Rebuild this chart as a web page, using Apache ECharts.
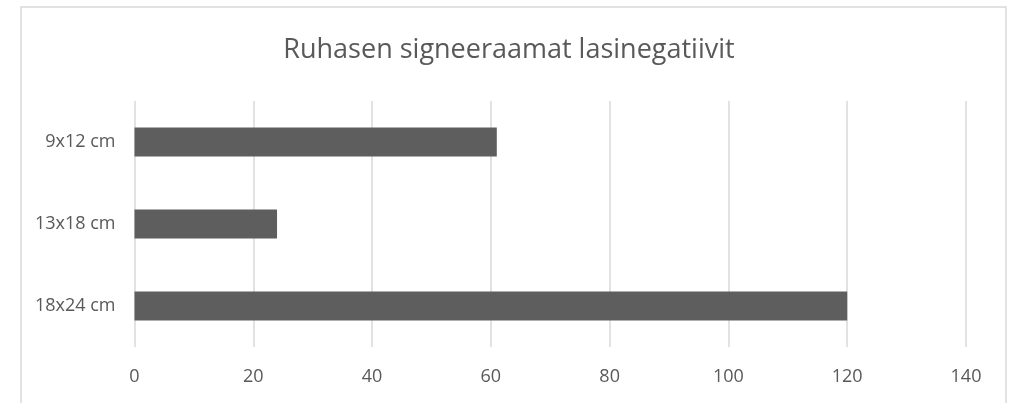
<!DOCTYPE html>
<html>
<head>
<meta charset="utf-8">
<script src="https://cdn.jsdelivr.net/npm/echarts@6/dist/echarts.min.js"></script>
<style>
html,body{margin:0;padding:0;background:#fff;}
#c{width:1018px;height:403px;}
</style>
</head>
<body>
<div id="c"></div>
<script>
const titleText = 'Ruhasen signeeraamat lasinegatiivit';
const categories = ['18x24 cm', '13x18 cm', '9x12 cm'];
const values = [120, 24, 61];
const xTicks = [0, 20, 40, 60, 80, 100, 120, 140];

const FONT = "'Open Sans', sans-serif";
const chart = echarts.init(document.getElementById('c'), null, {renderer: 'canvas'});
chart.setOption({
  animation: false,
  backgroundColor: '#ffffff',
  title: {
    text: titleText,
    left: 'center',
    top: 32,
    textStyle: {fontFamily: FONT, fontSize: 27, fontWeight: 'normal', color: '#595959'}
  },
  graphic: [{
    type: 'rect',
    shape: {x: 21, y: 7, width: 985, height: 410},
    style: {fill: 'none', stroke: '#d9d9d9', lineWidth: 1.5},
    silent: true
  }],
  grid: {left: 134.5, right: 52, top: 101, bottom: 56, containLabel: false},
  xAxis: {
    type: 'value',
    min: xTicks[0],
    max: xTicks[xTicks.length - 1],
    interval: 20,
    axisLine: {show: false},
    axisTick: {show: false},
    axisLabel: {fontFamily: FONT, fontSize: 18, color: '#595959', margin: 21},
    splitLine: {show: true, lineStyle: {color: '#d9d9d9', width: 1.5}}
  },
  yAxis: {
    type: 'category',
    data: categories,
    axisLine: {show: false},
    axisTick: {show: false},
    axisLabel: {fontFamily: FONT, fontSize: 18, color: '#595959', margin: 19}
  },
  series: [{
    type: 'bar',
    data: values,
    barWidth: 29,
    itemStyle: {color: '#5e5e5e'}
  }]
});
</script>
</body>
</html>
